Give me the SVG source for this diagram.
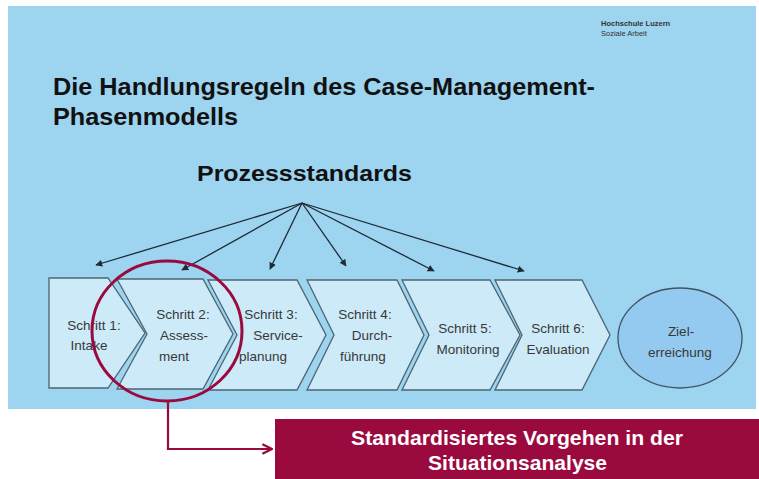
<svg xmlns="http://www.w3.org/2000/svg" width="759" height="479" viewBox="0 0 759 479">
<style>
.chev{fill:#cdeaf9;stroke:#4d6472;stroke-width:1.3}
.lbl{font-family:"Liberation Sans",Arial,sans-serif;font-size:13.5px;fill:#383838;text-anchor:middle}
.conn{stroke:#1e2a35;stroke-width:1.3;fill:none}
.title{font-family:"Liberation Sans",Arial,sans-serif;font-weight:bold;fill:#111}
.note{font-family:"Liberation Sans",Arial,sans-serif;font-size:21px;font-weight:bold;fill:#fff}
</style>
<defs>
<marker id="ah" viewBox="0 0 10 10" refX="9" refY="5" markerWidth="7" markerHeight="7" orient="auto" markerUnits="userSpaceOnUse">
<path d="M0,0 L10,5 L0,10 z" fill="#1e2a35"/>
</marker>
<marker id="oh" viewBox="0 0 10 10" refX="9" refY="5" markerWidth="12" markerHeight="12" orient="auto" markerUnits="userSpaceOnUse">
<path d="M1,1 L9,5 L1,9" fill="none" stroke="#9b0a3e" stroke-width="2"/>
</marker>
</defs>
<rect width="759" height="479" fill="#ffffff"/>
<rect x="8" y="6" width="748" height="403" fill="#9dd4ef"/>
<g id="header">
<text x="601" y="26" font-family="'Liberation Sans',Arial,sans-serif" font-size="7.5" font-weight="bold" fill="#333">Hochschule Luzern</text>
<text x="601" y="36" font-family="'Liberation Sans',Arial,sans-serif" font-size="7.5" fill="#333">Soziale Arbeit</text>
<text class="title" x="53" y="95" font-size="23" textLength="542" lengthAdjust="spacingAndGlyphs">Die Handlungsregeln des Case-Management-</text>
<text class="title" x="53" y="125" font-size="23" textLength="185" lengthAdjust="spacingAndGlyphs">Phasenmodells</text>
<text class="title" x="197" y="181" font-size="22" textLength="215" lengthAdjust="spacingAndGlyphs">Prozessstandards</text>
</g>
<g id="connectors">
<line class="conn" x1="302" y1="203" x2="96" y2="265" marker-end="url(#ah)"/>
<line class="conn" x1="302" y1="203" x2="182" y2="270" marker-end="url(#ah)"/>
<line class="conn" x1="302" y1="203" x2="270" y2="269" marker-end="url(#ah)"/>
<line class="conn" x1="302" y1="203" x2="346" y2="266" marker-end="url(#ah)"/>
<line class="conn" x1="302" y1="203" x2="434" y2="271" marker-end="url(#ah)"/>
<line class="conn" x1="302" y1="203" x2="524" y2="271" marker-end="url(#ah)"/>
<polyline points="168,400 168,449 272,449" fill="none" stroke="#9b0a3e" stroke-width="2.2" marker-end="url(#oh)"/>
</g>
<g id="step1">
<path class="chev" d="M49,278 L108,278 L145,333 L108,388 L49,388 Z"/>
<text class="lbl" x="94" y="330">Schritt 1:</text>
<text class="lbl" x="89" y="350">Intake</text>
</g>
<g id="step2">
<path class="chev" d="M117,279 L203,279 L233,334 L203,389 L117,389 L147,334 Z"/>
<text class="lbl" x="183" y="319">Schritt 2:</text>
<text class="lbl" x="184" y="340">Assess-</text>
<text class="lbl" x="174" y="361">ment</text>
</g>
<g id="step3">
<path class="chev" d="M208,280 L297,280 L326,335 L297,390 L208,390 L237,335 Z"/>
<text class="lbl" x="271" y="319">Schritt 3:</text>
<text class="lbl" x="278" y="340">Service-</text>
<text class="lbl" x="263" y="361">planung</text>
</g>
<g id="step4">
<path class="chev" d="M307,280 L397,280 L424,335 L397,390 L307,390 L334,335 Z"/>
<text class="lbl" x="365" y="319">Schritt 4:</text>
<text class="lbl" x="372" y="340">Durch-</text>
<text class="lbl" x="363" y="361">führung</text>
</g>
<g id="step5">
<path class="chev" d="M402,280 L490,280 L520,335 L490,390 L402,390 L429,335 Z"/>
<text class="lbl" x="465" y="333">Schritt 5:</text>
<text class="lbl" x="468" y="354">Monitoring</text>
</g>
<g id="step6">
<path class="chev" d="M495,280 L582,280 L610,335 L582,390 L495,390 L522,335 Z"/>
<text class="lbl" x="558" y="333">Schritt 6:</text>
<text class="lbl" x="558" y="354">Evaluation</text>
</g>
<g id="goal">
<ellipse cx="680" cy="338" rx="62" ry="50" fill="#95caf0" stroke="#3f5563" stroke-width="1.3"/>
<text class="lbl" x="681" y="336">Ziel-</text>
<text class="lbl" x="680" y="357">erreichung</text>
</g>
<g id="focus">
<ellipse cx="167" cy="331" rx="75" ry="70" fill="none" stroke="#9b0a3e" stroke-width="3"/>
</g>
<g id="note">
<rect x="275" y="419" width="484" height="60" fill="#9b0a3e"/>
<text class="note" x="351" y="445" textLength="332" lengthAdjust="spacingAndGlyphs">Standardisiertes Vorgehen in der</text>
<text class="note" x="428" y="470" textLength="179" lengthAdjust="spacingAndGlyphs">Situationsanalyse</text>
</g>
</svg>
